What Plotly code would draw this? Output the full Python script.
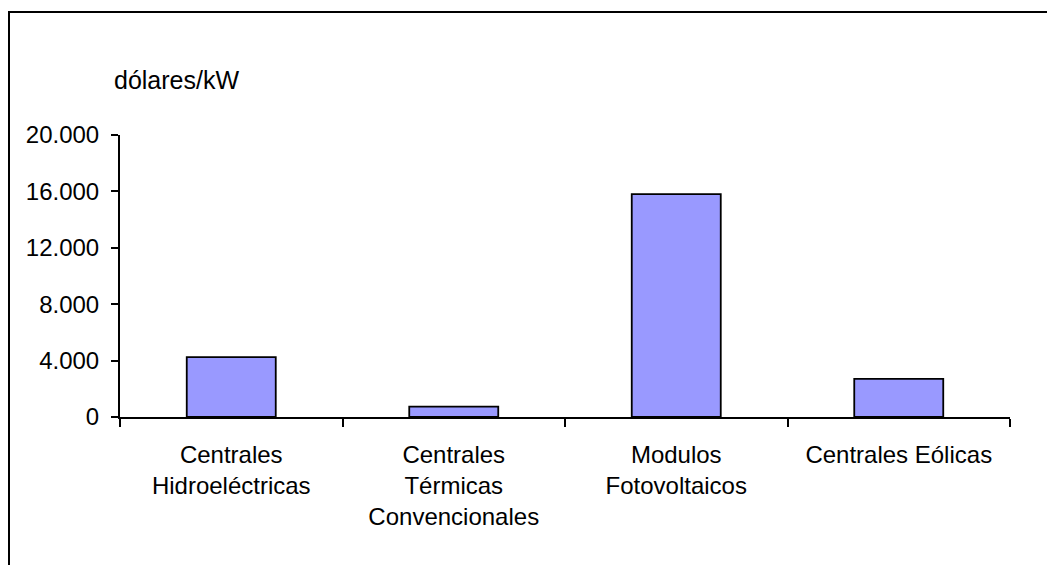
import plotly.graph_objects as go

categories = ["Centrales<br>Hidroeléctricas", "Centrales<br>Térmicas<br>Convencionales",
              "Modulos<br>Fotovoltaicos", "Centrales Eólicas"]
values = [4250, 730, 15800, 2700]
tick_vals = [0, 4000, 8000, 12000, 16000, 20000]
y_title = "dólares/kW"

W, H = 1055, 565
OFF = 8  # page body margin
# plot area in page pixels
X0, X1, Y0, Y1 = 120, 1010, 135, 417
L, T = X0 - OFF, Y0 - OFF
R, B = W - (X1 - OFF), H - (Y1 - OFF)
pw, ph = X1 - X0, Y1 - Y0

def px(x):
    return (x - X0) / pw

def py(y):
    return (Y1 - y) / ph

font = dict(family="Liberation Sans, Arial, sans-serif", size=24, color="black")
tfont = dict(family="Liberation Sans, Arial, sans-serif", size=25, color="black")

fig = go.Figure(go.Bar(
    x=categories, y=values, width=0.4,
    marker=dict(color="#9999FF", line=dict(color="black", width=1.8)),
))

fig.update_layout(
    width=W, height=H,
    margin=dict(l=L, r=R, t=T, b=B),
    paper_bgcolor="white", plot_bgcolor="white",
    font=font, separators=",.", showlegend=False,
    xaxis=dict(showline=True, linecolor="black", linewidth=2, ticks="outside",
               tickson="boundaries", ticklen=8, tickwidth=2, tickcolor="black",
               showgrid=False, zeroline=False, tickfont=font, ticklabelstandoff=15),
    yaxis=dict(range=[0, 20000], tickvals=tick_vals, tickformat=",d",
               showline=True, linecolor="black", linewidth=2, ticks="outside",
               ticklen=7, tickwidth=2, tickcolor="black", showgrid=False,
               zeroline=False, tickfont=font, ticklabelstandoff=7),
    annotations=[dict(text=y_title, xref="paper", yref="paper", x=px(112), y=py(80),
                      xanchor="left", yanchor="middle", showarrow=False, font=tfont)],
    shapes=[dict(type="path", xref="paper", yref="paper",
                 path=f"M {px(9)} {py(600)} L {px(9)} {py(12)} L {px(1080)} {py(12)}",
                 line=dict(color="black", width=2))],
)

fig.write_html("out.html")
